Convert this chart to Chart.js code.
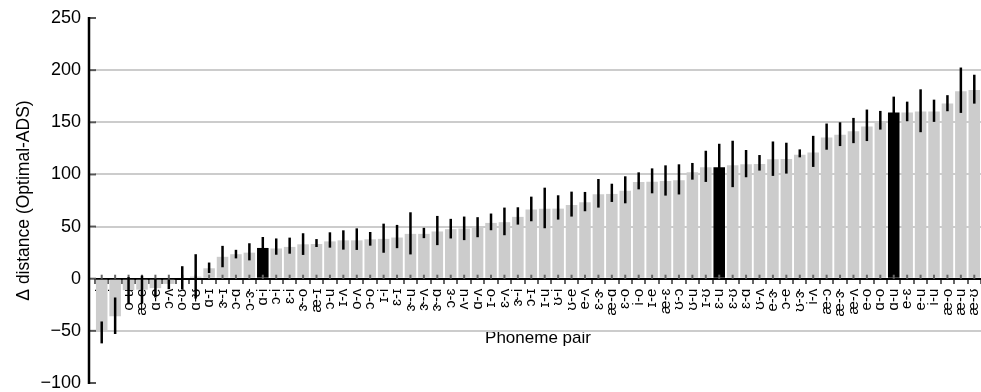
<!DOCTYPE html>
<html>
<head>
<meta charset="utf-8">
<script src="https://cdn.jsdelivr.net/npm/chart.js@4.4.1/dist/chart.umd.min.js"></script>
<style>
  html, body { margin: 0; padding: 0; background: #fff; }
  #wrap { width: 981px; height: 392px; }
</style>
</head>
<body>
<div id="wrap"><canvas id="deltaChart" width="981" height="392"></canvas></div>
<script>
const pairs = ['æ-i', 'e-i', 'o-u', 'æ-e', 'ɑ-e', 'ɔ-ʌ', 'o-ʊ', 'ɑ-ʊ', 'ɑ-ɪ', 'ɝ-ɪ', 'ɔ-ɑ', 'ɔ-ɝ',
  'ɑ-i', 'ɔ-i', 'ɛ-i', 'ɝ-o', 'æ-ɪ', 'ɔ-u', 'ɪ-ʌ', 'o-ʌ', 'ɔ-o', 'ɪ-i', 'ɛ-ɪ', 'ɝ-u',
  'ɝ-ʌ', 'ɝ-ɑ', 'ɔ-ɛ', 'ʌ-u', 'ɑ-ʌ', 'ɪ-o', 'ɛ-ʌ', 'ɝ-i', 'ɔ-ɪ', 'ɪ-u', 'ʊ-i', 'ʊ-e',
  'e-ʌ', 'ɛ-ɝ', 'æ-ɑ', 'ɛ-o', 'i-o', 'ɪ-e', 'æ-ɛ', 'ʊ-ɔ', 'ʊ-u', 'ɪ-ʊ', 'ɛ-u', 'ɛ-ʊ',
  'ɛ-ɑ', 'ʊ-ʌ', 'e-ɝ', 'ɔ-e', 'ʊ-ɝ', 'i-ʌ', 'æ-ɔ', 'æ-ɝ', 'æ-ʌ', 'e-o', 'ɑ-o', 'ɑ-u',
  'e-ɛ', 'e-u', 'i-u', 'æ-o', 'æ-u', 'æ-ʊ'];

// mean difference per pair
const delta = [-50, -36, -11, -10.5, -9, -5, 1, 2, 10, 21, 23.5, 25,
  29.5, 29, 30.5, 33, 33.3, 35.8, 36.8, 36.8, 37.8, 38.2, 39.5, 43,
  43, 45.3, 47.5, 48.1, 48.8, 53.5, 54.2, 59.3, 66.3, 67.2, 67.2, 70.7,
  73.3, 80.9, 81.3, 84.4, 92.7, 93, 93.7, 94.3, 102, 106.8, 106.8, 108.7,
  109.7, 110, 114.5, 114.8, 118.9, 121.1, 135.5, 138, 141.5, 146, 151, 159.3,
  159.3, 160.3, 160.3, 168, 179.7, 181];

// error bar ends
const errHigh = [-41, -18, 1.5, 3, 0, -1, 12, 23.5, 15.5, 31.5, 27.7, 34,
  40, 38.6, 39.4, 43.6, 38, 44.5, 46.4, 48.3, 44.8, 52.8, 51.6, 63.7,
  48.8, 60.2, 57.4, 59.6, 59, 62.5, 68.2, 68.5, 78.7, 87.3, 80, 83.5,
  83.2, 95.6, 91.1, 98.2, 102, 105.8, 108.7, 109.7, 111, 122.7, 129.4, 132.3,
  123.4, 118.6, 131.6, 130.4, 124, 137, 148.8, 150, 154.2, 162.2, 160.9, 174.6,
  169.8, 181.6, 171.7, 176, 202.5, 195.6];
const errLow = [-62, -53, -24, -24, -18, -10, -10, -19, 5.5, 11, 19.5, 17.6,
  18, 23, 24, 22.8, 30.4, 29.8, 27.9, 27.6, 31.7, 24.9, 29.3, 23.3,
  38.9, 32.2, 38.6, 37, 39.8, 46.5, 41.7, 51.9, 55.1, 48.4, 56.7, 59.6,
  64.7, 68.2, 73.6, 72.3, 85.7, 81.9, 79.7, 80.8, 95, 92.8, 81.7, 87.8,
  97.3, 103.7, 98.6, 100.8, 116.4, 107.2, 123.7, 127.2, 130, 132, 143, 145,
  151, 140.5, 150.4, 160.6, 159, 167.9];

const highlighted = ['ɑ-i', 'ɛ-u', 'ɑ-u'];
const yTicks = [-100, -50, 0, 50, 100, 150, 200, 250];

const FONT = '"Liberation Sans", Arial, "DejaVu Sans", sans-serif';

const errorBars = {
  id: 'errorBars',
  afterDatasetsDraw(chart) {
    const ctx = chart.ctx;
    const y = chart.scales.y;
    const y0 = y.getPixelForValue(0);
    const meta = chart.getDatasetMeta(0);
    ctx.save();
    // small category marks straddling the zero line
    ctx.strokeStyle = '#666';
    ctx.lineWidth = 2;
    meta.data.forEach(bar => {
      ctx.beginPath();
      ctx.moveTo(bar.x, y0 - 4);
      ctx.lineTo(bar.x, y0);
      ctx.stroke();
    });
    ctx.strokeStyle = '#000';
    ctx.lineWidth = 2.5;
    meta.data.forEach((bar, i) => {
      ctx.beginPath();
      ctx.moveTo(bar.x, y.getPixelForValue(errHigh[i]));
      ctx.lineTo(bar.x, y.getPixelForValue(errLow[i]));
      ctx.stroke();
    });
    ctx.restore();
  }
};

const leftAxis = {
  id: 'leftAxis',
  afterDraw(chart) {
    const ctx = chart.ctx;
    const y = chart.scales.y;
    const ax = chart.chartArea.left - 6;
    ctx.save();
    ctx.strokeStyle = '#555';
    ctx.lineWidth = 2;
    yTicks.forEach(v => {
      const py = y.getPixelForValue(v);
      ctx.beginPath();
      ctx.moveTo(ax, py);
      ctx.lineTo(ax + 7, py);
      ctx.stroke();
    });
    ctx.strokeStyle = '#000';
    ctx.lineWidth = 2.5;
    ctx.beginPath();
    ctx.moveTo(ax, y.getPixelForValue(250) - 1);
    ctx.lineTo(ax, y.getPixelForValue(-100) + 1);
    ctx.stroke();
    ctx.restore();
  }
};

const ctx = document.getElementById('deltaChart').getContext('2d');

new Chart(ctx, {
  type: 'bar',
  data: {
    labels: pairs,
    datasets: [{
      data: delta,
      backgroundColor: pairs.map(p => highlighted.includes(p) ? '#000' : '#cccccc'),
      borderWidth: 0,
      barPercentage: 0.86,
      categoryPercentage: 1
    }]
  },
  options: {
    responsive: false,
    animation: false,
    devicePixelRatio: 1,
    layout: { padding: { top: 18, bottom: 9, left: 0, right: 0 } },
    plugins: {
      legend: { display: false },
      tooltip: { enabled: false }
    },
    scales: {
      x: {
        position: { y: 0 },
        z: 1,
        afterFit(scale) {
          scale.paddingLeft = 0; scale.paddingRight = 0;
          scale.paddingTop = 0; scale.paddingBottom = 0;
        },
        grid: { drawOnChartArea: false, tickLength: 4, color: '#666', lineWidth: 2 },
        border: { color: '#000', width: 2 },
        ticks: {
          autoSkip: false, minRotation: 90, maxRotation: 90, padding: 6,
          color: '#000', font: { family: FONT, size: 15 }
        },
        title: {
          display: true, text: 'Phoneme pair', color: '#000',
          font: { family: FONT, size: 17 }, padding: { top: 6 }
        }
      },
      y: {
        min: -100,
        max: 250,
        afterFit(scale) {
          scale.width = 95;
          scale.paddingTop = 0; scale.paddingBottom = 0;
        },
        border: { display: false },
        grid: {
          drawTicks: false,
          lineWidth: 2,
          color: c => (c.tick.value === 250 || c.tick.value === -100 || c.tick.value === 0) ? 'rgba(0,0,0,0)' : '#cccccc'
        },
        ticks: {
          stepSize: 50, padding: 14, color: '#000',
          font: { family: FONT, size: 18 },
          callback: v => v < 0 ? '\u2212' + Math.abs(v) : String(v)
        },
        title: {
          display: true, text: 'Δ distance (Optimal-ADS)', color: '#000',
          font: { family: FONT, size: 17.5 }, padding: { top: 14, bottom: 0 }
        }
      }
    }
  },
  plugins: [errorBars, leftAxis]
});
</script>
</body>
</html>
